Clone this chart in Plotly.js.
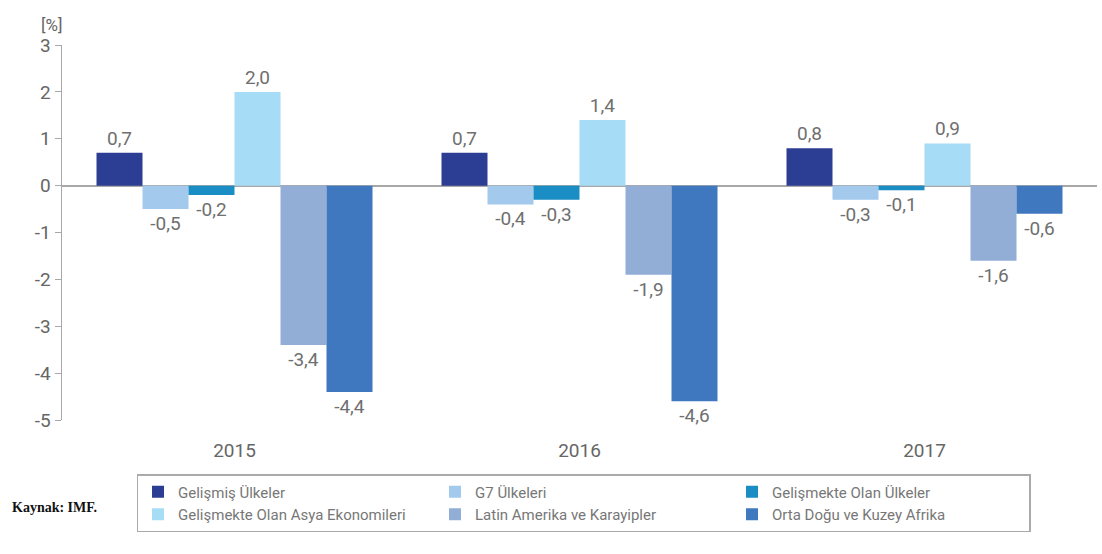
<!DOCTYPE html>
<html>
<head>
<meta charset="utf-8">
<script src="https://cdn.plot.ly/plotly-3.0.1.min.js"></script>
<style>html,body{margin:0;padding:0;background:#fff;}#chart{width:1102px;height:554px;}</style>
</head>
<body>
<div id="chart"></div>
<script>
const years = ['2015', '2016', '2017'];
const seriesNames = ['Gelişmiş Ülkeler', 'G7 Ülkeleri', 'Gelişmekte Olan Ülkeler',
  'Gelişmekte Olan Asya Ekonomileri', 'Latin Amerika ve Karayipler', 'Orta Doğu ve Kuzey Afrika'];
const gelismis = [0.7, 0.7, 0.8];
const g7 = [-0.5, -0.4, -0.3];
const gelismekte = [-0.2, -0.3, -0.1];
const asya = [2.0, 1.4, 0.9];
const latin = [-3.4, -1.9, -1.6];
const ortaDogu = [-4.4, -4.6, -0.6];
const colors = ['#2B3E93', '#A3C9EC', '#1A8DC4', '#A6DCF5', '#92AED6', '#3F78BF'];
const yTicks = [-5, -4, -3, -2, -1, 0, 1, 2, 3];

const FONT = 'Roboto, "DejaVu Sans", sans-serif';
const values = [gelismis, g7, gelismekte, asya, latin, ortaDogu];
const fmt = v => v.toFixed(1).replace('.', ',');

const traces = values.map((vals, i) => ({
  type: 'bar',
  name: seriesNames[i],
  x: years,
  y: vals,
  marker: {color: colors[i]},
  text: vals.map(fmt),
  textposition: 'outside',
  textfont: {family: FONT, size: 19, color: '#6f6f6f'},
  constraintext: 'none',
  cliponaxis: false,
  hoverinfo: 'skip'
}));

const layout = {
  width: 1102, height: 554,
  margin: {l: 62, r: 5, t: 45, b: 134},
  paper_bgcolor: '#ffffff',
  plot_bgcolor: '#ffffff',
  barmode: 'group',
  bargap: 0.2,
  bargroupgap: 0,
  showlegend: true,
  font: {family: FONT, color: '#666'},
  xaxis: {
    type: 'category',
    showgrid: false, zeroline: false, showline: false,
    ticks: 'outside', ticklen: 13, tickcolor: 'rgba(0,0,0,0)',
    tickfont: {family: FONT, size: 19, color: '#666'}
  },
  yaxis: {
    range: [-5, 3],
    tickvals: yTicks,
    ticktext: yTicks.map(String),
    showgrid: false,
    zeroline: true, zerolinecolor: '#a8a8a8', zerolinewidth: 2,
    showline: true, linecolor: '#a8a8a8', linewidth: 1.5,
    ticks: 'outside', ticklen: 6, tickcolor: '#a8a8a8',
    tickfont: {family: FONT, size: 19, color: '#666'}
  },
  legend: {
    orientation: 'h',
    x: 0.072, xanchor: 'left',
    y: -0.144, yanchor: 'top',
    entrywidth: 252,
    bordercolor: '#aaaaaa', borderwidth: 1.5,
    bgcolor: '#ffffff',
    font: {family: FONT, size: 15, color: '#777'},
    itemwidth: 30,
    tracegroupgap: 0
  },
  annotations: [
    {text: '[%]', xref: 'paper', yref: 'paper', x: -0.01, y: 1.022, xanchor: 'center', yanchor: 'bottom',
     showarrow: false, font: {family: FONT, size: 17, color: '#666'}},
    {text: '<b>Kaynak: IMF.</b>', xref: 'paper', yref: 'paper', x: -0.05, y: -0.232, xanchor: 'left', yanchor: 'middle',
     showarrow: false, font: {family: '"Liberation Serif", serif', size: 14, color: '#111'}}
  ]
};

Plotly.newPlot('chart', traces, layout, {displayModeBar: false, staticPlot: true});
</script>
</body>
</html>
